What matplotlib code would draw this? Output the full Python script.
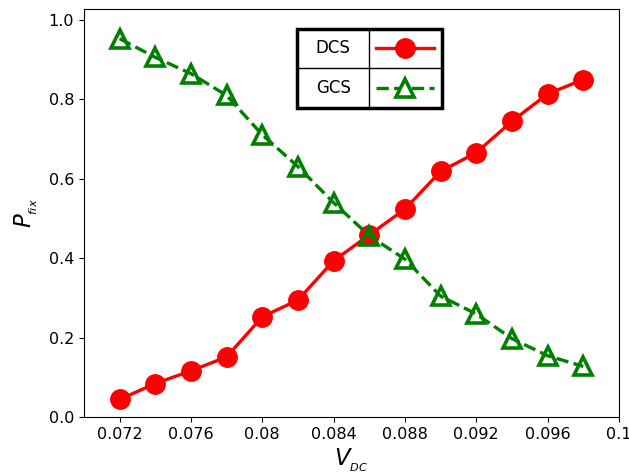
import matplotlib
matplotlib.use("Agg")
import matplotlib.pyplot as plt
from matplotlib.lines import Line2D
from matplotlib.patches import Rectangle

# data
v_dc = [0.072, 0.074, 0.076, 0.078, 0.080, 0.082, 0.084, 0.086, 0.088,
        0.090, 0.092, 0.094, 0.096, 0.098]
p_dcs = [0.045, 0.085, 0.117, 0.152, 0.253, 0.295, 0.394, 0.459, 0.524,
         0.619, 0.666, 0.745, 0.814, 0.850]
p_gcs = [0.953, 0.906, 0.865, 0.810, 0.711, 0.631, 0.540, 0.457, 0.398,
         0.305, 0.260, 0.198, 0.155, 0.128]
xtick_vals = [0.072, 0.076, 0.080, 0.084, 0.088, 0.092, 0.096, 0.100]
xtick_labels = ['0.072', '0.076', '0.08', '0.084', '0.088', '0.092', '0.096', '0.1']
ytick_vals = [0.0, 0.2, 0.4, 0.6, 0.8, 1.0]

red = '#ff0000'
green = '#008000'

fig = plt.figure(figsize=(6.29, 4.75), dpi=100)
ax = fig.add_axes([0.1335, 0.1215, 0.8505, 0.859])

ax.plot(v_dc, p_dcs, '-', color=red, lw=2.4, marker='o', ms=14,
        mfc=red, mec=red)
ax.plot(v_dc, p_gcs, '--', color=green, lw=2.4, marker='^', ms=13,
        mfc='none', mec=green, mew=2.6)

ax.set_xlim(0.070, 0.100)
ax.set_ylim(0.0, 1.027)
ax.set_xticks(xtick_vals)
ax.set_xticklabels(xtick_labels)
ax.set_yticks(ytick_vals)
ax.set_yticklabels(['%.1f' % v for v in ytick_vals])
ax.tick_params(labelsize=11.5)

# small, low subscripts like the original
ax.set_xlabel(r'$V_{_{DC}}$', fontsize=16.5, labelpad=3)
ax.set_ylabel(r'$P_{_{fix}}$', fontsize=16.5, labelpad=6)

# table-like legend box
x0, xm, x1 = 0.3987, 0.533, 0.670
y0, ym, y1 = 0.757, 0.857, 0.951
tr = ax.transAxes
ax.add_patch(Rectangle((x0, y0), x1 - x0, y1 - y0, transform=tr, fill=False,
                       ec='black', lw=2.5, zorder=5))
ax.add_line(Line2D([xm, xm], [y0, y1], transform=tr, color='black', lw=1.0, zorder=5))
ax.add_line(Line2D([x0, x1], [ym, ym], transform=tr, color='black', lw=1.0, zorder=5))
ax.text((x0 + xm) / 2, (ym + y1) / 2, 'DCS', transform=tr, ha='center',
        va='center', fontsize=12, zorder=6)
ax.text((x0 + xm) / 2, (y0 + ym) / 2, 'GCS', transform=tr, ha='center',
        va='center', fontsize=12, zorder=6)
hx = [xm + 0.012, x1 - 0.015]
hc = (hx[0] + hx[1]) / 2
ax.add_line(Line2D(hx, [(ym + y1) / 2] * 2, transform=tr, color=red, lw=2.4, zorder=6))
ax.add_line(Line2D([hc], [(ym + y1) / 2], transform=tr, color=red, marker='o',
                   ms=14, mfc=red, mec=red, zorder=7))
ax.add_line(Line2D(hx, [(y0 + ym) / 2] * 2, transform=tr, color=green, lw=2.4,
                   ls='--', zorder=6))
ax.add_line(Line2D([hc], [(y0 + ym) / 2], transform=tr, color=green, marker='^',
                   ms=13, mfc='white', mec=green, mew=2.6, zorder=7))

fig.savefig('out.png', dpi=100)
